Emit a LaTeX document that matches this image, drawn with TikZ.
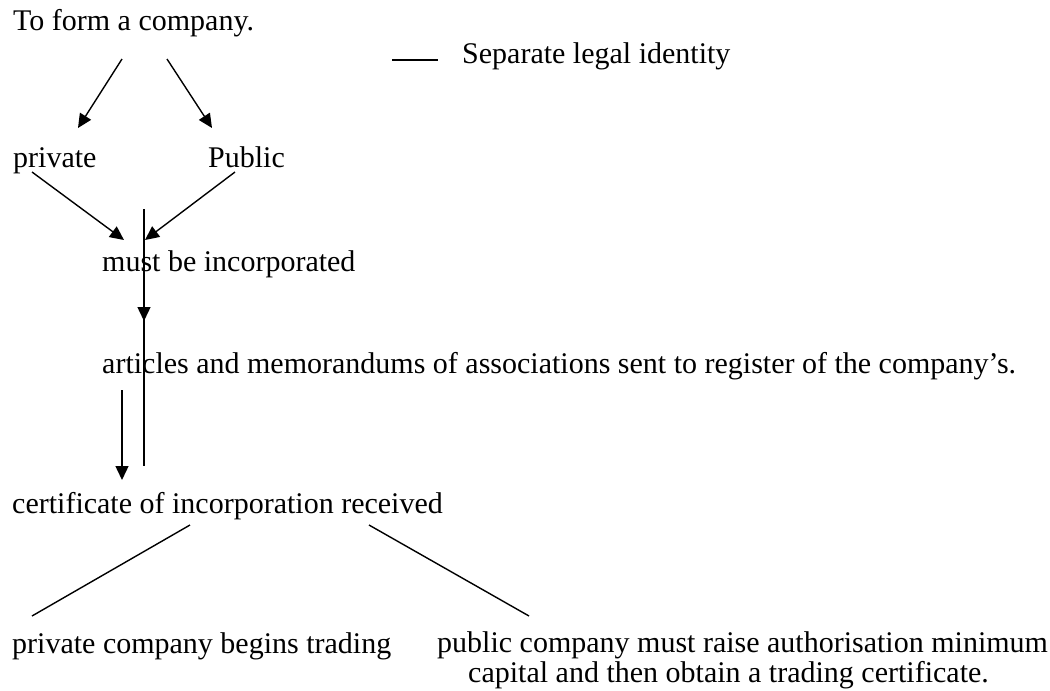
\documentclass[tikz,border=0pt]{standalone}
\usepackage{fontspec}
\setmainfont{Liberation Serif}
\usetikzlibrary{arrows.meta}
\begin{document}
\begin{tikzpicture}[x=1pt,y=-1pt,
  txt/.style={anchor=base west,inner sep=0pt,font=\fontsize{30}{36}\selectfont},
  ln/.style={line width=1.4pt},
  arr/.style={line width=1.4pt,-{Triangle[length=14pt,width=13pt]}}]
\useasboundingbox[fill=white] (0,0) rectangle (1050,691);
% texts
\node[txt] (form) at (13,30) {To form a company.};
\node[txt] (sep) at (462,63) {Separate legal identity};
\node[txt] (priv) at (13,167) {private};
\node[txt] (pub) at (208,167) {Public};
\node[txt] (must) at (102,271) {must be incorporated};
\node[txt] (art) at (102,373) {articles and memorandums of associations sent to register of the company’s.};
\node[txt] (cert) at (12,513) {certificate of incorporation received};
\node[txt] (pcb) at (12,653) {private company begins trading};
\node[txt] (puba) at (437,652) {public company must raise authorisation minimum};
\node[txt] (pubb) at (468,682) {capital and then obtain a trading certificate.};
% connector end points
\coordinate (s1) at (392,60);
\coordinate (s2) at (438,60);
\coordinate (f1) at (122,59);
\coordinate (f1e) at (78,128);
\coordinate (f2) at (167,59);
\coordinate (f2e) at (212,128);
\coordinate (p1) at (32,172);
\coordinate (p1e) at (124,240);
\coordinate (p2) at (235,172);
\coordinate (p2e) at (145,240);
\coordinate (v1) at (144,209);
\coordinate (v2) at (144,466);
\coordinate (m1) at (144,285);
\coordinate (m1e) at (144,321);
\coordinate (a1) at (122,390);
\coordinate (a1e) at (122,480);
\coordinate (c1) at (190,525);
\coordinate (c1e) at (32,616);
\coordinate (c2) at (369,525);
\coordinate (c2e) at (529,616);
% connectors
\draw[ln] (s1) -- (s2);
\draw[arr] (f1) -- (f1e);
\draw[arr] (f2) -- (f2e);
\draw[arr] (p1) -- (p1e);
\draw[arr] (p2) -- (p2e);
\draw[ln] (v1) -- (v2);
\draw[arr] (m1) -- (m1e);
\draw[arr] (a1) -- (a1e);
\draw[ln] (c1) -- (c1e);
\draw[ln] (c2) -- (c2e);
\end{tikzpicture}
\end{document}
